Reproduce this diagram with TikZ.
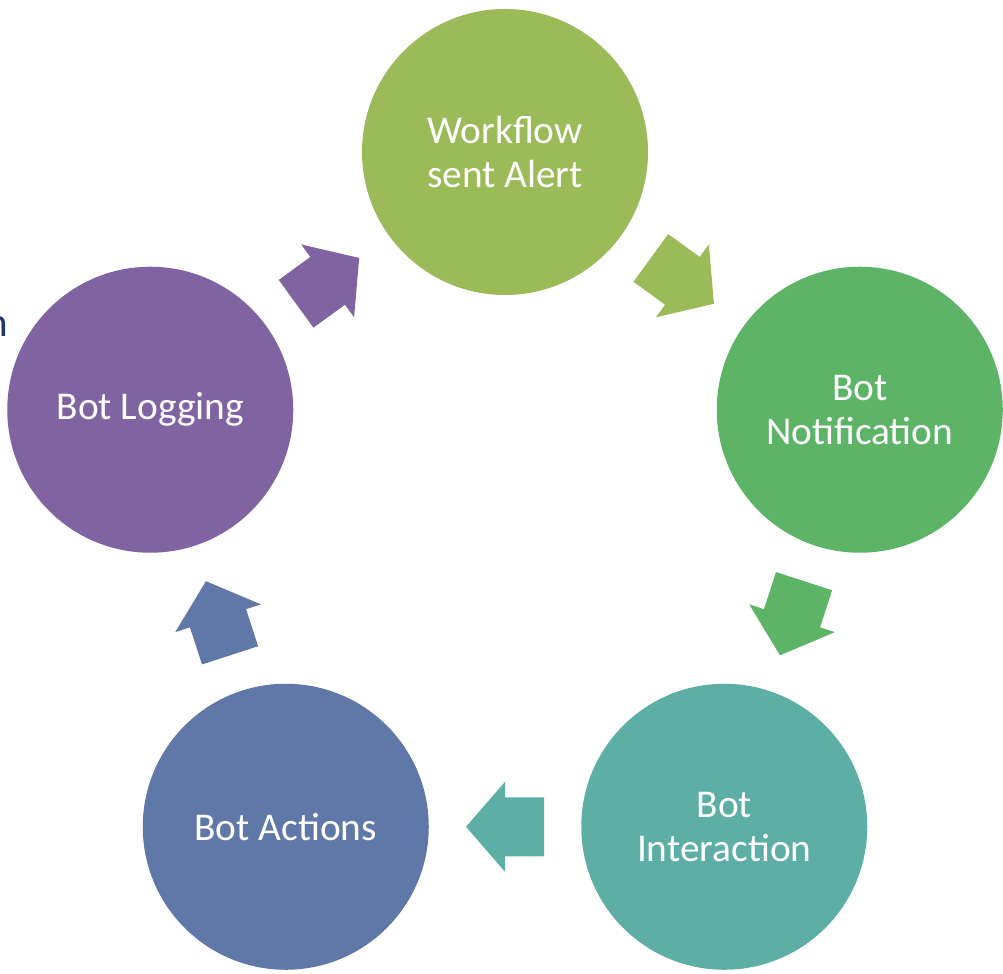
\documentclass[tikz,border=0pt]{standalone}
\usepackage{fontspec}
\setmainfont{Carlito}
\usetikzlibrary{calc}

\definecolor{alertgreen}{HTML}{9BBB59}
\definecolor{notegreen}{HTML}{5DB467}
\definecolor{interteal}{HTML}{5DAFA6}
\definecolor{actionblue}{HTML}{6078A8}
\definecolor{logpurple}{HTML}{8064A2}
\definecolor{titlenavy}{HTML}{203864}

\begin{document}
\begin{tikzpicture}[
    % styles
    stage/.style={circle, minimum size=2.86cm, inner sep=0pt, text=white,
      align=center, font=\fontsize{11.2}{12.5}\selectfont},
    blockarrow/.style={draw=none}]

    \useasboundingbox (0, 0) rectangle (10.03, 9.73);

    % cut-off text at the left edge
    \begin{scope}
      \clip (0, 0) rectangle (10.03, 9.73);
      \node [titlenavy, anchor=base east, inner sep=0pt,
        font=\fontsize{11.7}{14}\selectfont] (cut) at (0.09, 6.36) {n};
    \end{scope}

    % stages
    \foreach \name/\ang/\col/\txt in {
      wf/90/alertgreen/{Workflow\\sent Alert},
      bn/18/notegreen/{Bot\\Notification},
      bi/-54/interteal/{Bot\\Interaction},
      ba/-126/actionblue/{Bot Actions},
      bl/162/logpurple/{Bot Logging}} {
      \node [stage, fill=\col] (\name) at ($(5.05, 4.48)+(\ang:3.73)$) {\txt};
    }

    % arrows between stages
    \foreach \from/\to/\ang/\col in {
      wf/bn/-36/alertgreen,
      bn/bi/-108/notegreen,
      bi/ba/180/interteal,
      ba/bl/108/actionblue,
      bl/wf/36/logpurple} {
      \fill [blockarrow, fill=\col, shift={($(\from)!0.5!(\to)$)}, rotate=\ang]
      (-0.39, -0.295) -- (0, -0.295) -- (0, -0.45) -- (0.39, 0)
      -- (0, 0.45) -- (0, 0.295) -- (-0.39, 0.295) -- cycle;
    }

  \end{tikzpicture}
\end{document}
